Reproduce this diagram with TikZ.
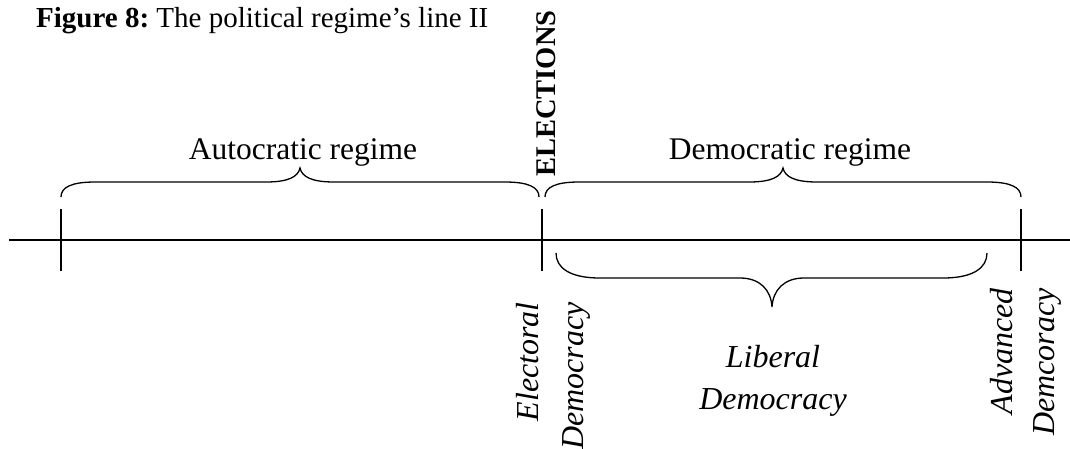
\documentclass[tikz,border=0pt]{standalone}
\usepackage{fontspec}
\setmainfont{Liberation Serif}
\tikzset{
  axis/.style={line width=1.3pt},
  tick/.style={line width=1.3pt},
  brace/.style={line width=1.3pt},
  lbl/.style={inner sep=0pt, font=\fontsize{31.5}{36}\selectfont},
  vlbl/.style={inner sep=0pt, rotate=90, anchor=base east, font=\fontsize{32}{36}\selectfont\itshape},
}
\begin{document}
\frenchspacing
\begin{tikzpicture}[x=1pt,y=-1pt]
\useasboundingbox (0,0) rectangle (1070,448);
% title
\node[inner sep=0pt, anchor=base west, font=\fontsize{29}{34}\selectfont] (title) at (36,27)
  {\textbf{Figure 8:} The political regime’s line II};
% elections
\node[inner sep=0pt, rotate=90, anchor=base west, font=\fontsize{28.5}{34}\selectfont\bfseries] (elec) at (555,177) {ELECTIONS};
% regime labels
\node[lbl, anchor=base] (auto) at (303,159) {Autocratic regime};
\node[lbl, anchor=base] (demo) at (790,159) {Democratic regime};
% axis
\coordinate (a0) at (9,240);
\coordinate (a1) at (1070,240);
\draw[axis] (a0) -- (a1);
\coordinate (t1) at (61,240);
\coordinate (t2) at (542,240);
\coordinate (t3) at (1021,240);
\foreach \t in {t1,t2,t3} \draw[tick] (\t) ++(0,-31) -- ++(0,62);
% upper braces
\draw[brace] (61,197) .. controls (61,187) and (72,182) .. (95,182) -- (266,182)
  .. controls (288,182) and (298,177) .. (300,168)
  .. controls (302,177) and (312,182) .. (334,182) -- (505,182)
  .. controls (528,182) and (539,187) .. (539,197);
\draw[brace] (545,197) .. controls (545,187) and (556,182) .. (579,182) -- (749,182)
  .. controls (771,182) and (781,177) .. (783,168)
  .. controls (785,177) and (795,182) .. (817,182) -- (987,182)
  .. controls (1010,182) and (1021,187) .. (1021,197);
% lower brace
\draw[brace] (556,253) .. controls (556,268) and (570,278) .. (600,278) -- (740,278)
  .. controls (760,278) and (771,290) .. (772,307)
  .. controls (773,290) and (784,278) .. (804,278) -- (943,278)
  .. controls (973,278) and (987,268) .. (987,253);
% lower labels
\node[vlbl] (el) at (538,302) {Electoral};
\node[vlbl] (ed) at (583,302) {Democracy};
\node[vlbl] (ad) at (1012,288) {Advanced};
\node[vlbl] (adc) at (1054,288) {Demcoracy};
\node[lbl, anchor=base, font=\fontsize{32}{36}\selectfont\itshape] (lib1) at (773,367) {Liberal};
\node[lbl, anchor=base, font=\fontsize{32}{36}\selectfont\itshape] (lib2) at (773,409) {Democracy};
\end{tikzpicture}
\end{document}
